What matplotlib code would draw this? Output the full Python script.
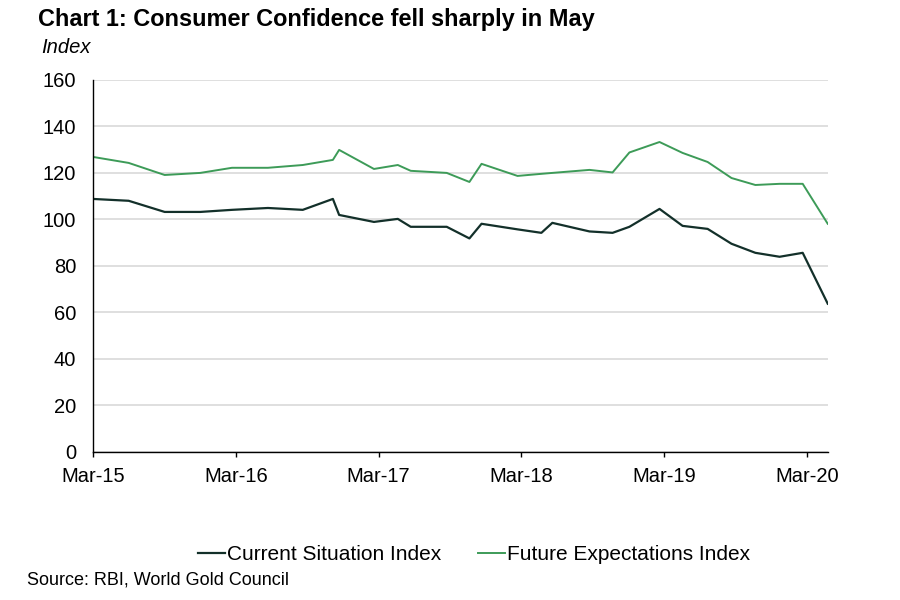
import pandas as pd
import matplotlib
matplotlib.use('Agg')
import matplotlib.pyplot as plt
import matplotlib.dates as mdates

plt.rcParams['font.family'] = ['Liberation Sans', 'DejaVu Sans']

# survey dates
dates = pd.to_datetime([
    '2015-03-01', '2015-06-01', '2015-09-01', '2015-12-01', '2016-02-20',
    '2016-05-22', '2016-08-19', '2016-11-04', '2016-11-20', '2017-02-17',
    '2017-04-19', '2017-05-22', '2017-08-22', '2017-10-19', '2017-11-19',
    '2018-02-19', '2018-04-21', '2018-05-19', '2018-08-22', '2018-10-20',
    '2018-12-02', '2019-02-17', '2019-04-17', '2019-06-20', '2019-08-20',
    '2019-10-20', '2019-12-21', '2020-02-18', '2020-04-22',
])

current_situation = [
    108.8, 108.0, 103.2, 103.2, 104.1, 104.9, 104.1, 108.8, 101.9, 98.9,
    100.2, 96.8, 96.8, 91.8, 98.1, 95.7, 94.2, 98.5, 94.8, 94.2,
    96.8, 104.5, 97.2, 95.9, 89.5, 85.6, 83.9, 85.6, 63.7,
]
future_expectations = [
    126.9, 124.3, 119.1, 120.0, 122.2, 122.2, 123.4, 125.6, 129.9, 121.7,
    123.4, 120.9, 120.0, 116.1, 123.9, 118.7, 119.6, 120.0, 121.3, 120.2,
    128.8, 133.3, 128.6, 124.7, 117.8, 114.8, 115.3, 115.3, 98.1,
]

tick_dates = pd.to_datetime(['2015-03-01', '2016-03-01', '2017-03-01',
                             '2018-03-01', '2019-03-01', '2020-03-01'])

fig = plt.figure(figsize=(9, 6), dpi=100)
ax = fig.add_axes([0.103, 0.2472, 0.8167, 0.6195])

ax.plot(dates, current_situation, color='#13302a', lw=1.6, label='Current Situation Index')
ax.plot(dates, future_expectations, color='#3d9b58', lw=1.4, label='Future Expectations Index')

ax.set_ylim(0, 160)
ax.set_yticks(range(0, 161, 20))
ax.set_xlim(dates[0], dates[-1])
ax.set_xticks(tick_dates)
ax.xaxis.set_major_formatter(mdates.DateFormatter('%b-%y'))

ax.grid(axis='y', color='#d9d9d9', lw=1.2)
ax.set_axisbelow(True)
for s in ['top', 'right']:
    ax.spines[s].set_visible(False)
ax.spines['left'].set_linewidth(1.0)
ax.spines['bottom'].set_linewidth(1.0)
ax.tick_params(axis='y', length=0, pad=12, labelsize=14.5)
ax.tick_params(axis='x', length=3.5, width=1.0, direction='out', pad=7.5, labelsize=14.5)

fig.text(0.042, 0.967, 'Chart 1: Consumer Confidence fell sharply in May',
         fontsize=16.9, fontweight='bold', va='center', ha='left')
fig.text(0.046, 0.921, 'Index', fontsize=14.5, style='italic', va='center', ha='left')
fig.text(0.030, 0.033, 'Source: RBI, World Gold Council', fontsize=13, va='center', ha='left')

fig.legend(loc='center', bbox_to_anchor=(0.527, 0.075), ncol=2, frameon=False,
           fontsize=15, handlelength=1.3, handletextpad=0.1, columnspacing=1.75)

fig.savefig('out.png', dpi=100)
